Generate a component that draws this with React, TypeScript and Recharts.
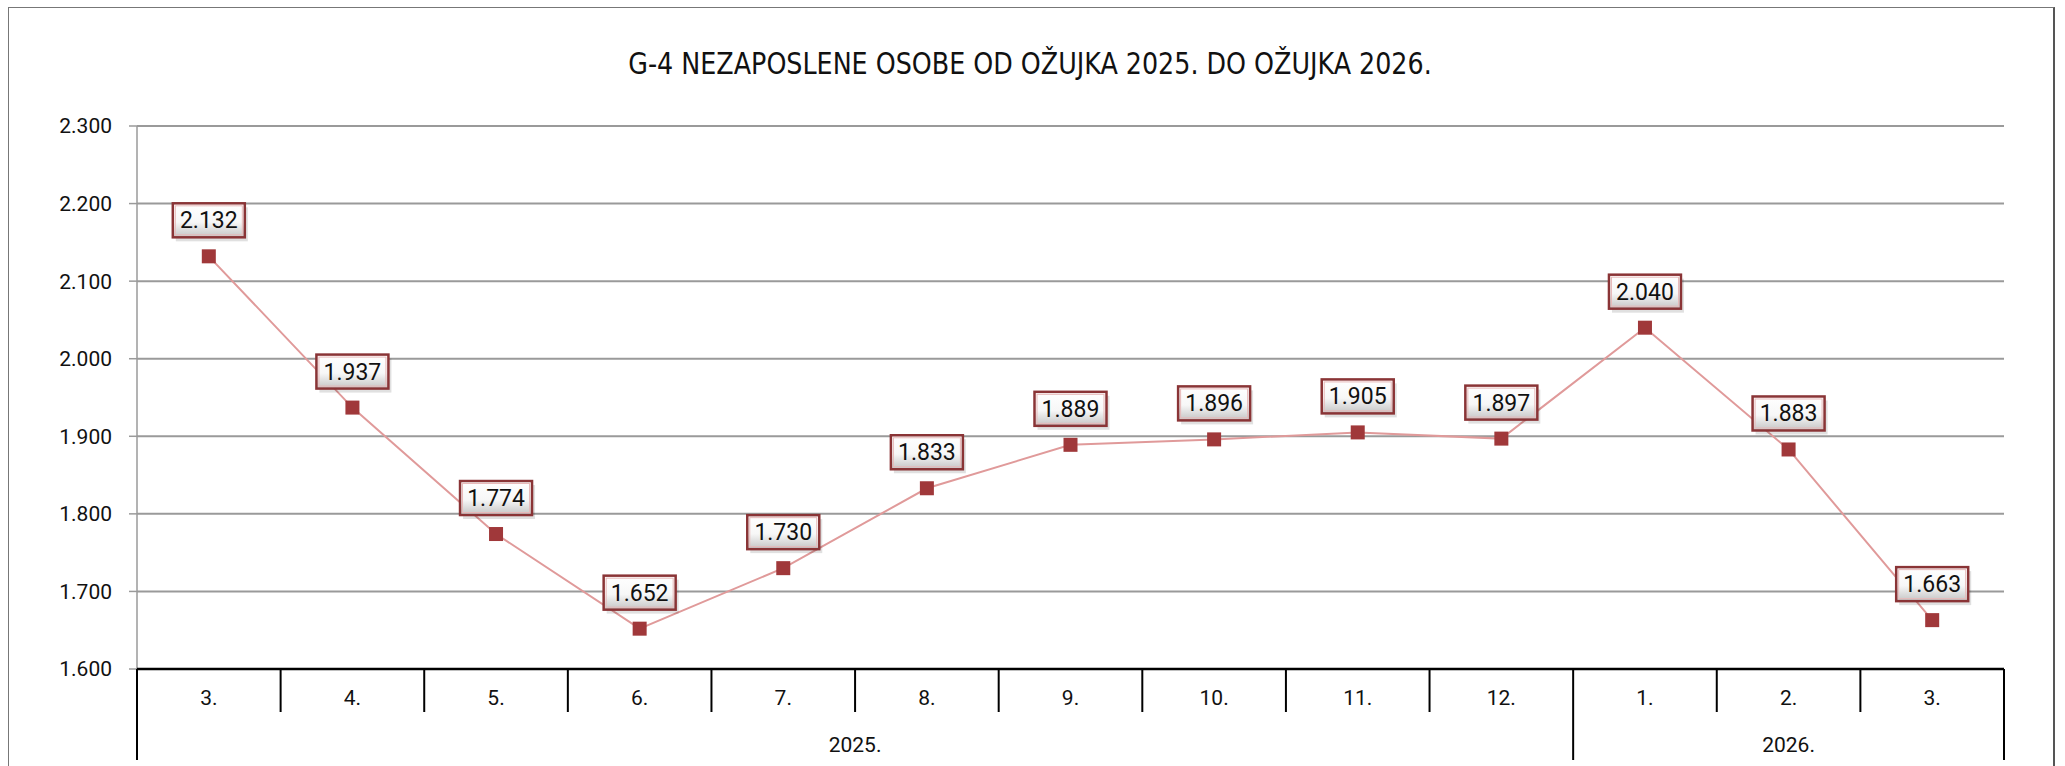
import React from 'react';
import { LineChart, Line, XAxis, YAxis, CartesianGrid, LabelList } from 'recharts';

// podaci: nezaposlene osobe po mjesecima
const months = ['3.', '4.', '5.', '6.', '7.', '8.', '9.', '10.', '11.', '12.', '1.', '2.', '3.'];
const years = ['2025.', '2025.', '2025.', '2025.', '2025.', '2025.', '2025.', '2025.', '2025.', '2025.', '2026.', '2026.', '2026.'];
const unemployed = [2132, 1937, 1774, 1652, 1730, 1833, 1889, 1896, 1905, 1897, 2040, 1883, 1663];
const yTicks = [1600, 1700, 1800, 1900, 2000, 2100, 2200, 2300];

const title = 'G-4 NEZAPOSLENE OSOBE OD OŽUJKA 2025. DO OŽUJKA 2026.';

const W = 2065;
const H = 766;
const PLOT_LEFT = 137;
const PLOT_RIGHT = 2004;
const PLOT_TOP = 126;
const AXIS_H = 97;
const AXIS_Y = H - AXIS_H;
const BAND = (PLOT_RIGHT - PLOT_LEFT) / months.length;

const FONT = 'Roboto, "Noto Sans", sans-serif';

const fmt = (v: number) => {
  const s = String(Math.round(v));
  return s.length > 3 ? s.slice(0, s.length - 3) + '.' + s.slice(-3) : s;
};

const data = months.map((m, i) => ({ month: m, year: years[i], value: unemployed[i] }));

const MonthTick = (props: any) => {
  const { x, payload } = props;
  const i: number = payload.index ?? props.index ?? 0;
  const half = payload.offset ? payload.offset : BAND / 2;
  const left = x - half;
  const n = months.length;
  const groupStart = i === 0 || years[i] !== years[i - 1];
  const isLast = i === n - 1;
  let count = 0;
  if (groupStart) {
    let j = i;
    while (j < n && years[j] === years[i]) { count++; j++; }
  }
  return (
    <g>
      <line x1={left} x2={left} y1={AXIS_Y} y2={groupStart ? 760 : 712} stroke="#000" strokeWidth={2} />
      {isLast && <line x1={x + half} x2={x + half} y1={AXIS_Y} y2={760} stroke="#000" strokeWidth={2} />}
      <text x={x} y={705} textAnchor="middle" fontSize={21} fontFamily={FONT} fill="#111">{payload.value}</text>
      {groupStart && (
        <text x={left + count * half} y={752} textAnchor="middle" fontSize={21} fontFamily={FONT} fill="#111">{years[i]}</text>
      )}
    </g>
  );
};

const SquareDot = (props: any) => {
  const { cx, cy, index } = props;
  if (cx == null || cy == null) return null;
  return <rect key={`dot-${index}`} x={cx - 7} y={cy - 7} width={14} height={14} fill="#A0383A" />;
};

const ValueLabel = (props: any) => {
  const { x, y, value } = props;
  const w = 72;
  const h = 34;
  const bx = x - w / 2;
  const by = y - 53;
  return (
    <g>
      <rect x={bx + 3} y={by + 4} width={w} height={h} fill="#000" opacity={0.12} />
      <rect x={bx} y={by} width={w} height={h} fill="url(#lblGrad)" stroke="#8A3436" strokeWidth={2.5} />
      <rect x={bx + 2.5} y={by + 2.5} width={w - 5} height={h - 5} fill="none" stroke="#E7B9B9" strokeWidth={1} />
      <text x={x} y={by + h / 2 + 8} textAnchor="middle" fontSize={23} fontFamily={FONT} fill="#111">{fmt(value)}</text>
    </g>
  );
};

export default function App() {
  return (
    <div style={{ position: 'absolute', left: 0, top: 0, width: W, height: H, overflow: 'hidden', background: '#fff' }}>
      <div style={{ position: 'absolute', left: 8, top: 7, width: 2044, height: 800, borderLeft: '1.5px solid #777', borderTop: '1.5px solid #777', borderRight: '2px solid #555' }} />
      <div style={{ position: 'absolute', left: 8, width: 2044, top: 44, textAlign: 'center', fontFamily: '"Liberation Sans Narrow", "DejaVu Sans Condensed", sans-serif', fontStretch: 'condensed', fontSize: 31, color: '#111', lineHeight: '38px', transform: 'scaleX(0.91)' }}>
        {title}
      </div>
      <div style={{ position: 'absolute', left: 0, top: 0 }}>
        <LineChart width={W} height={H} data={data} margin={{ top: PLOT_TOP, right: W - PLOT_RIGHT, bottom: 0, left: 0 }}>
          <defs>
            <linearGradient id="lblGrad" x1="0" y1="0" x2="0" y2="1">
              <stop offset="0%" stopColor="#ffffff" />
              <stop offset="55%" stopColor="#f7f7f7" />
              <stop offset="100%" stopColor="#c4c4c4" />
            </linearGradient>
          </defs>
          <CartesianGrid vertical={false} stroke="#9a9a9a" strokeWidth={2} />
          <YAxis
            width={PLOT_LEFT}
            domain={[1600, 2300]}
            ticks={yTicks}
            interval={0}
            tickFormatter={fmt}
            tickSize={8}
            tickMargin={17}
            axisLine={{ stroke: '#9a9a9a', strokeWidth: 1.5 }}
            tickLine={{ stroke: '#9a9a9a', strokeWidth: 1.5 }}
            tick={{ fontSize: 21, fontFamily: FONT, fill: '#111' }}
          />
          <XAxis
            dataKey="month"
            height={AXIS_H}
            interval={0}
            padding={{ left: BAND / 2, right: BAND / 2 }}
            tickSize={0}
            tickMargin={0}
            tickLine={false}
            axisLine={{ stroke: '#000', strokeWidth: 2.5 }}
            tick={<MonthTick />}
          />
          <Line
            type="linear"
            dataKey="value"
            stroke="#E09A9A"
            strokeWidth={2}
            dot={<SquareDot />}
            activeDot={false}
            isAnimationActive={false}
          >
            <LabelList dataKey="value" content={<ValueLabel />} />
          </Line>
        </LineChart>
      </div>
    </div>
  );
}
